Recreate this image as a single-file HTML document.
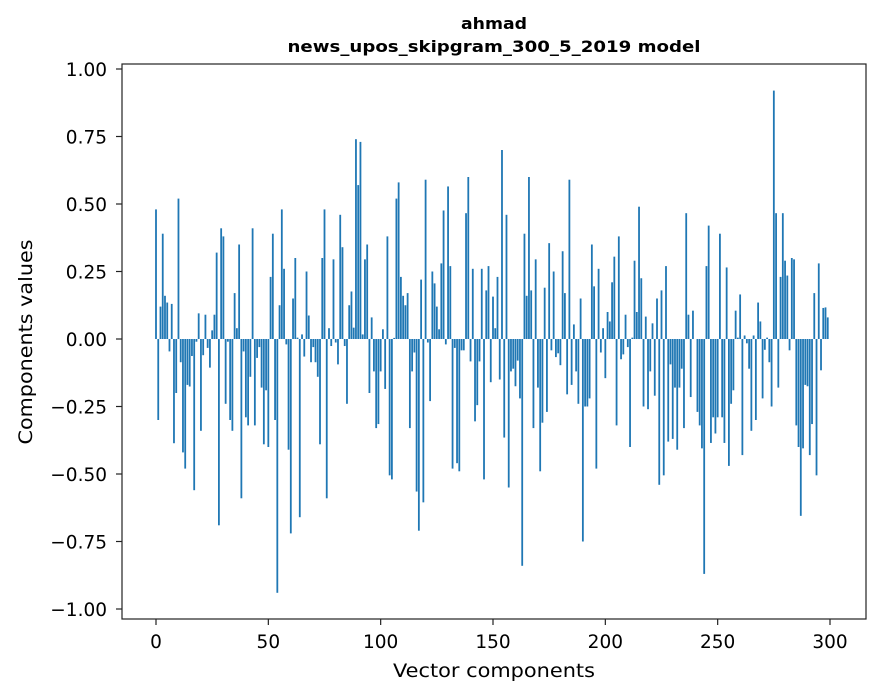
<!DOCTYPE html>
<html><head><meta charset="utf-8"><style>
html,body{margin:0;padding:0;background:#fff;}
svg{display:block;font-family:"DejaVu Sans","Liberation Sans",sans-serif;}
</style></head><body>
<svg id="chart" width="880" height="696" viewBox="0 0 880 696">
<rect x="0" y="0" width="880" height="696" fill="#fff"/>
<text x="494" y="29" text-anchor="middle" font-size="16" font-weight="bold" textLength="66" lengthAdjust="spacingAndGlyphs">ahmad</text>
<text x="494" y="52" text-anchor="middle" font-size="16" font-weight="bold" textLength="413" lengthAdjust="spacingAndGlyphs">news_upos_skipgram_300_5_2019 model</text>
<g id="bars"></g>
<g id="xticks"></g>
<g id="yticks"></g>
<rect x="122" y="64" width="744" height="555" fill="none" stroke="#222" stroke-width="1.2"/>
<text x="494" y="677" text-anchor="middle" font-size="19" textLength="202" lengthAdjust="spacingAndGlyphs">Vector components</text>
<text x="0" y="0" transform="translate(32,342) rotate(-90)" text-anchor="middle" font-size="19" textLength="205" lengthAdjust="spacingAndGlyphs">Components values</text>
</svg>
<script>
const values = [
0.48,-0.30,0.12,0.39,0.16,0.135,-0.046,0.13,-0.386,-0.20,
0.52,-0.086,-0.42,-0.48,-0.17,-0.176,-0.063,-0.56,-0.01,0.095,
-0.34,-0.06,0.09,-0.033,-0.106,0.032,0.09,0.32,-0.69,0.41,
0.38,-0.24,-0.01,-0.30,-0.34,0.17,0.04,0.35,-0.59,-0.046,
-0.29,-0.32,-0.14,0.41,-0.32,-0.07,-0.03,-0.18,
-0.39,-0.19,-0.40,0.23,0.39,-0.30,-0.94,0.125,0.48,0.26,-0.02,-0.41,-0.72,0.15,0.30,0.005,-0.66,0.017,-0.065,0.25,0.087,-0.086,-0.03,-0.086,-0.14,-0.39,0.30,0.48,-0.59,0.04,-0.026,0.295,-0.013,-0.094,0.46,0.34,-0.026,-0.24,0.125,0.176,0.042,0.74,0.57,0.73,0.017,0.295,0.35,-0.20,0.08,-0.12,-0.33,
-0.315,-0.12,0.036,-0.185,0.38,-0.505,-0.52,0.004,0.52,0.58,0.23,0.16,0.125,0.17,-0.33,-0.12,-0.05,-0.565,-0.71,0.22,-0.605,0.59,-0.013,-0.23,0.25,0.206,0.12,0.036,0.28,0.476,-0.02,0.565,0.27,-0.48,-0.033,-0.46,-0.49,-0.042,-0.042,0.466,0.60,-0.083,0.26,-0.305,-0.245,-0.083,0.26,-0.52,0.18,
0.27,-0.16,0.157,0.04,0.23,-0.15,0.70,-0.365,0.46,-0.55,-0.12,-0.11,-0.175,-0.08,-0.22,-0.84,0.39,0.16,0.60,0.18,-0.33,0.295,-0.18,-0.49,-0.31,0.19,-0.27,0.355,-0.042,0.25,-0.067,-0.053,-0.097,0.325,0.17,-0.205,0.59,-0.17,0.054,-0.12,-0.24,0.15,-0.75,-0.25,-0.25,-0.22,0.35,0.195,-0.48,
0.26,-0.05,0.04,-0.145,0.10,0.065,0.21,0.305,-0.32,0.38,-0.075,-0.057,0.09,-0.03,-0.40,0.005,0.29,0.10,0.49,0.225,-0.25,0.083,-0.26,-0.12,0.058,-0.21,0.15,-0.54,0.18,-0.505,0.27,-0.38,-0.094,-0.37,-0.18,-0.41,-0.18,-0.11,-0.33,0.466,0.09,-0.215,0.105,0.0,-0.27,-0.32,-0.405,-0.87,0.27,0.42,
-0.385,-0.29,-0.35,-0.29,0.39,-0.29,-0.385,0.265,-0.47,-0.24,-0.19,0.105,0.005,0.165,-0.43,0.013,-0.016,-0.11,-0.34,0.013,-0.30,0.135,0.065,-0.22,-0.04,0.005,-0.086,-0.25,0.92,0.466,-0.18,0.23,0.466,0.29,0.235,-0.042,0.30,0.295,-0.32,-0.40,-0.655,-0.405,-0.17,-0.175,-0.43,-0.315,0.17,-0.505,0.28,-0.116,0.115,0.117,0.08
];
const xTicks = [0,50,100,150,200,250,300];
const yTicks = [-1.00,-0.75,-0.50,-0.25,0.00,0.25,0.50,0.75,1.00];
const yTickLabels = ["\u22121.00","\u22120.75","\u22120.50","\u22120.25","0.00","0.25","0.50","0.75","1.00"];

const NS = "http://www.w3.org/2000/svg";
function xScale(v){ return 156 + v * (674/300); }
function yScale(v){ return 339 - v * 270; }
const barW = 0.8 * (674/300);

const gb = document.getElementById('bars');
values.forEach((v,i)=>{
  const r = document.createElementNS(NS,'rect');
  const y0 = yScale(0), y1 = yScale(v);
  r.setAttribute('x', xScale(i) - barW/2);
  r.setAttribute('y', Math.min(y0,y1));
  r.setAttribute('width', barW);
  r.setAttribute('height', Math.abs(y1-y0));
  r.setAttribute('fill', '#1f77b4');
  
  
  gb.appendChild(r);
});

const gx = document.getElementById('xticks');
xTicks.forEach(t=>{
  const x = xScale(t);
  const l = document.createElementNS(NS,'line');
  l.setAttribute('x1',x); l.setAttribute('x2',x); l.setAttribute('y1',619); l.setAttribute('y2',625);
  l.setAttribute('stroke','#222'); l.setAttribute('stroke-width','1.2');
  
  
  gx.appendChild(l);
  const tx = document.createElementNS(NS,'text');
  tx.setAttribute('x',x); tx.setAttribute('y',648); tx.setAttribute('text-anchor','middle'); tx.setAttribute('font-size','18.5');
  tx.textContent = String(t);
  
  
  gx.appendChild(tx);
});

const gy = document.getElementById('yticks');
yTicks.forEach((t,i)=>{
  const y = yScale(t);
  const l = document.createElementNS(NS,'line');
  l.setAttribute('x1',116); l.setAttribute('x2',122); l.setAttribute('y1',y); l.setAttribute('y2',y);
  l.setAttribute('stroke','#222'); l.setAttribute('stroke-width','1.2');
  
  
  gy.appendChild(l);
  const tx = document.createElementNS(NS,'text');
  tx.setAttribute('x',107); tx.setAttribute('y',y+7); tx.setAttribute('text-anchor','end'); tx.setAttribute('font-size','18.5');
  tx.textContent = yTickLabels[i];
  
  
  gy.appendChild(tx);
});
</script>
</body></html>
